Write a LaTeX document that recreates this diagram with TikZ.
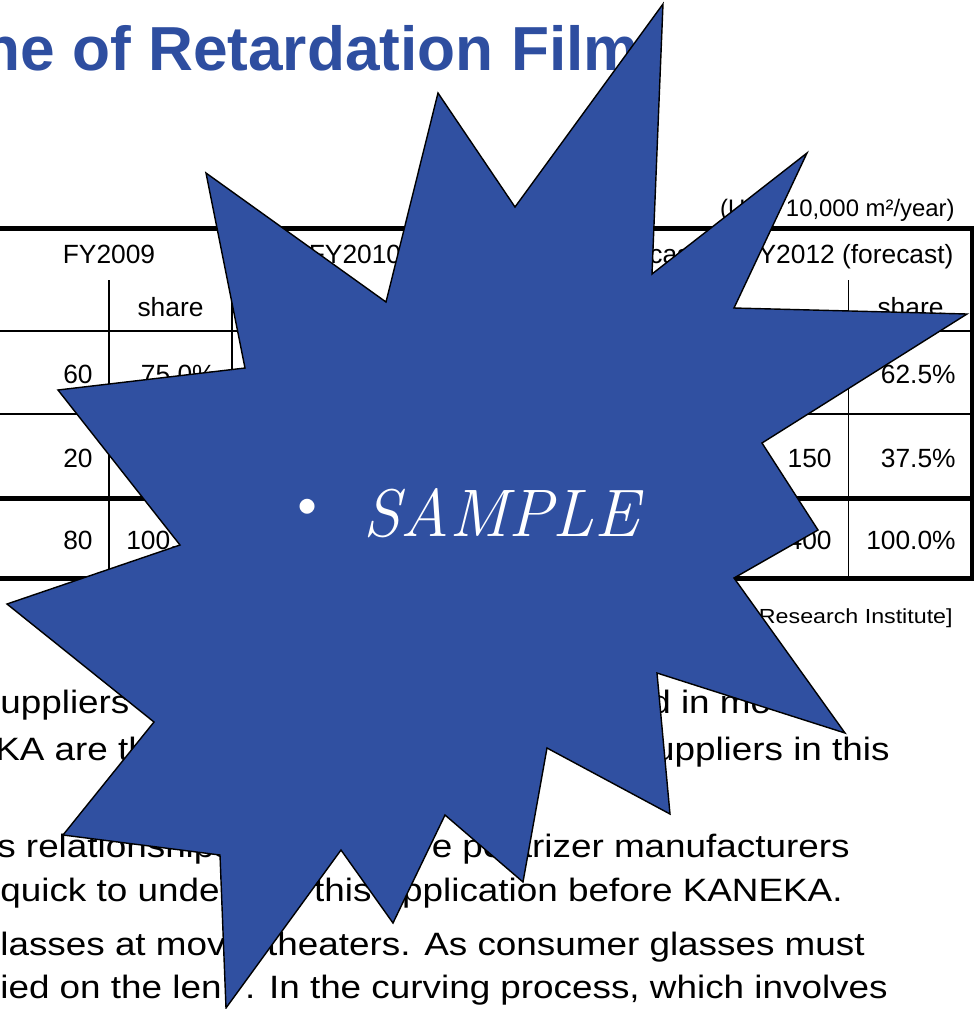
\documentclass[tikz,border=0pt]{standalone}
\usepackage{fontspec}
\usepackage{xcolor}
\usepackage{tikz}
\usetikzlibrary{positioning}
\newfontfamily\arialfont{Liberation Sans}
\newfontfamily\widefont[FakeStretch=1.14]{Liberation Sans}
\definecolor{burstblue}{RGB}{48,80,161}
\definecolor{titleblue}{RGB}{46,78,160}
\tikzset{
	title text/.style={
		font=\arialfont\bfseries\fontsize{35.4pt}{40pt}\selectfont, text=titleblue, inner sep=0pt
	},
	cell/.style={
		font=\arialfont\fontsize{15pt}{18pt}\selectfont, inner sep=0pt
	},
	body/.style={
		font=\widefont\fontsize{18.4pt}{22pt}\selectfont, inner sep=0pt, anchor=base west
	},
	note/.style={
		font=\widefont\fontsize{11.6pt}{14pt}\selectfont, inner sep=0pt
	},
	heavy rule/.style={line width=2.8pt},
	light rule/.style={line width=1.1pt},
	burst/.style={fill=burstblue, draw=black, line width=0.8pt, line join=miter}
}

\begin{document}
\begin{tikzpicture}[x=0.02cm, y=-0.02cm]
    \useasboundingbox (0,0) rectangle (975,1009);
    \clip (0,0) rectangle (975,1009);
    \fill[white] (0,0) rectangle (975,1009);

    % heading
    \node[title text, anchor=base west] (title) at (-18,70) {ne of Retardation Film};
    \node[cell, anchor=base east, font=\arialfont\fontsize{13.6pt}{16pt}\selectfont] (unit) at (955,216) {(Unit: 10,000 m²/year)};

    % table rules
    \draw[heavy rule] (-10,228.5) -- (974,228.5);
    \draw[light rule] (-10,331) -- (972,331);
    \draw[light rule] (-10,414) -- (972,414);
    \draw[heavy rule] (-10,498.5) -- (974,498.5);
    \draw[heavy rule] (-10,578.5) -- (974,578.5);
    \foreach \x in {109,355.3,601.7,848.5}
        \draw[light rule] (\x,280) -- (\x,578);
    \foreach \x in {232,478.5,725}
        \draw[light rule] (\x,228) -- (\x,578);
    \draw[heavy rule] (972,226) -- (972,581);

    % table header
    \node[cell, anchor=base] (fy2009) at (109,263) {FY2009};
    \node[cell, anchor=base] (fy2010) at (355,263) {FY2010};
    \node[cell, anchor=base] (fy2011) at (602,263) {FY2011 (forecast)};
    \node[cell, anchor=base] (fy2012) at (848,263) {FY2012 (forecast)};
    \node[cell, anchor=base] (share2009) at (170.5,316) {share};
    \node[cell, anchor=base] (share2012) at (910.5,316) {share};

    % table body
    \node[cell, anchor=base east] (v2009a) at (93,383) {60};
    \node[cell, anchor=base east] (s2009a) at (216,383) {75.0\%};
    \node[cell, anchor=base east] (v2009b) at (93,467) {20};
    \node[cell, anchor=base east] (v2009c) at (93,549) {80};
    \node[cell, anchor=base east] (s2009c) at (216,549) {100.0\%};
    \node[cell, anchor=base east] (s2012a) at (956,383) {62.5\%};
    \node[cell, anchor=base east] (v2012b) at (832,467) {150};
    \node[cell, anchor=base east] (s2012b) at (956,467) {37.5\%};
    \node[cell, anchor=base east] (v2012c) at (832,549) {400};
    \node[cell, anchor=base east] (s2012c) at (956,549) {100.0\%};
    \node[note, anchor=base east] (source) at (953,623) {Research Institute]};

    % running text
    \node[body] (lineAl) at (0,713) {uppliers of};
    \node[body] (lineAr) at (650,713) {d in mo};
    \node[body] (lineBl) at (-5,760) {KA are the};
    \node[body, anchor=base east] (lineBr) at (890,760) {suppliers in this};
    \node[body] (lineCl) at (-3,857) {s relationships};
    \node[body, anchor=base east] (lineCr) at (850,857) {e polarizer manufacturers};
    \node[body] (lineDl) at (0,901) {quick to unde};
    \node[body, anchor=base east] (lineDr) at (843,901) {this application before KANEKA.};
    \node[body] (lineEl) at (0,955) {lasses at mov};
    \node[body, anchor=base east] (lineEr) at (865,955) {theaters. As consumer glasses must};
    \node[body] (lineFl) at (0,998) {ied on the len};
    \node[body, anchor=base east] (lineFr) at (888,998) {. In the curving process, which involves};

    % burst
    \draw[burst] (663,4) -- (652,274) -- (807,153) -- (734,308) -- (967,314)
        -- (762,443) -- (818,530) -- (734,578) -- (845,733) -- (657,673)
        -- (670,814) -- (547,748) -- (523,882) -- (445,815) -- (393,923)
        -- (341,850) -- (226,1008) -- (220,855) -- (63,835) -- (154,722)
        -- (7,604) -- (180,545) -- (58,390) -- (245,368) -- (206,173)
        -- (386,302) -- (438,93) -- (515,207) -- cycle;
    \node[text=white, inner sep=0pt, font=\fontsize{38pt}{44pt}\selectfont] (dot) at (308,512) {\textbullet};
    \node[text=white, inner sep=0pt, anchor=base west, font=\fontsize{38.3pt}{44pt}\selectfont\itshape] (sample) at (363,536) {SAMPLE};
\end{tikzpicture}
\end{document}
